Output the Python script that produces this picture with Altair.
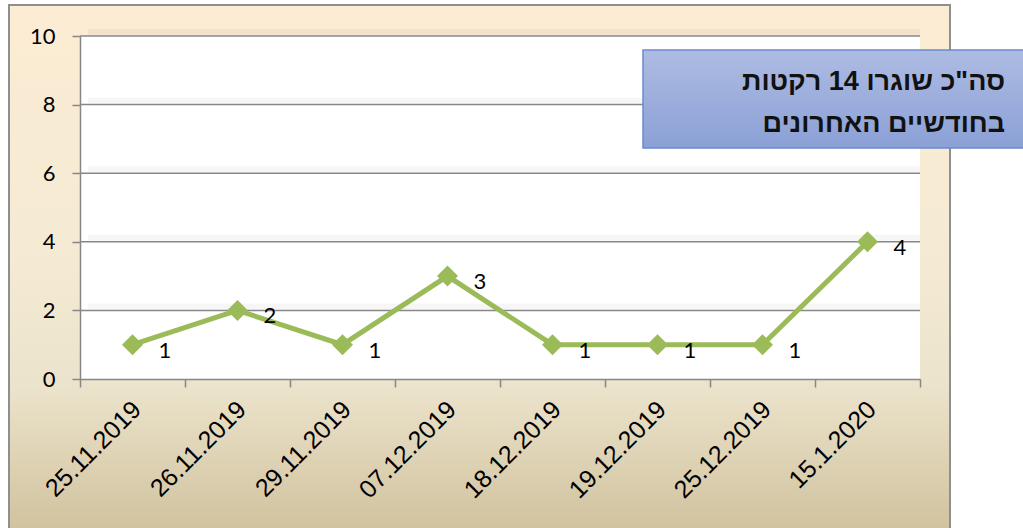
import altair as alt
import pandas as pd

dates = ["25.11.2019", "26.11.2019", "29.11.2019", "07.12.2019",
         "18.12.2019", "19.12.2019", "25.12.2019", "15.1.2020"]
values = [1, 2, 1, 3, 1, 1, 1, 4]
y_ticks = [0, 2, 4, 6, 8, 10]
grid_values = [2, 4, 6, 8, 10]
title_lines = ["סה\"כ שוגרו 14 רקטות", "בחודשיים האחרונים"]

df = pd.DataFrame({"date": dates, "value": values})
grid_df = pd.DataFrame({"g": grid_values})
dummy = pd.DataFrame({"d": [0]})
title_df = pd.DataFrame({"t": ["\n".join(title_lines)]})

W, H = 840, 343
GREEN = "#9bbb59"
GRAY = "#878787"

x_enc = alt.X("date:N", sort=dates, title=None,
              scale=alt.Scale(paddingInner=0, paddingOuter=0),
              axis=alt.Axis(labelAngle=315, labelAlign="right", labelBaseline="middle",
                            labelPadding=18, labelOffset=4, labelFontSize=25,
                            labelFont="Liberation Sans", labelColor="#000000",
                            tickBand="extent", tickSize=8, tickColor=GRAY,
                            domainColor=GRAY, domainWidth=1.5, tickWidth=1.5,
                            grid=False, zindex=1))
y_scale = alt.Scale(domain=[0, 10], nice=False)
y_enc = alt.Y("value:Q", scale=y_scale, title=None,
              axis=alt.Axis(values=y_ticks, labelFontSize=22, labelFont="Lato",
                            labelColor="#000000", labelPadding=17, tickSize=8,
                            tickColor=GRAY, domainColor=GRAY, domainWidth=1.5,
                            tickWidth=1.5, grid=False, zindex=1))

bg = alt.Chart(dummy).mark_rect(
    fill=alt.Gradient(gradient="linear", x1=0, x2=0, y1=0, y2=1,
                      stops=[alt.GradientStop(offset=0, color="#fcecd3"),
                             alt.GradientStop(offset=0.5, color="#f4ead3"),
                             alt.GradientStop(offset=0.72, color="#ebe3cb"),
                             alt.GradientStop(offset=1, color="#d0c19d")]),
    stroke="#8f8f8f", strokeWidth=2
).encode(x=alt.value(-71), x2=alt.value(870), y=alt.value(-31), y2=alt.value(500))

plot_bg = alt.Chart(dummy).mark_rect(fill="white").encode(
    x=alt.value(0), x2=alt.value(W), y=alt.value(0), y2=alt.value(H))

shadow = alt.Chart(grid_df).mark_rule(color="#000000", opacity=0.035, strokeWidth=6, yOffset=-4).encode(
    y=alt.Y("g:Q", scale=y_scale), x=alt.value(8), x2=alt.value(W))

grid = alt.Chart(grid_df).mark_rule(color=GRAY, strokeWidth=1.5).encode(
    y=alt.Y("g:Q", scale=y_scale), x=alt.value(0), x2=alt.value(W))

line = alt.Chart(df).mark_line(color=GREEN, strokeWidth=5).encode(x=x_enc, y=y_enc)
pts = alt.Chart(df).mark_point(shape="diamond", filled=True, color=GREEN, size=440, opacity=1).encode(
    x=alt.X("date:N", sort=dates), y=alt.Y("value:Q", scale=y_scale))
labels = alt.Chart(df).mark_text(align="left", baseline="middle", dx=26, dy=6,
                                 fontSize=22, font="Lato", color="#000000").encode(
    x=alt.X("date:N", sort=dates), y=alt.Y("value:Q", scale=y_scale), text="value:Q")

box = alt.Chart(dummy).mark_rect(
    fill=alt.Gradient(gradient="linear", x1=0, x2=0, y1=0, y2=1,
                      stops=[alt.GradientStop(offset=0, color="#aebce3"),
                             alt.GradientStop(offset=1, color="#8ba0d6")]),
    stroke="#6a8bcf", strokeWidth=1.5
).encode(x=alt.value(563), x2=alt.value(960), y=alt.value(14), y2=alt.value(112))

title = alt.Chart(title_df).mark_text(align="right", baseline="middle", fontSize=27,
                                      fontWeight="bold", font="Liberation Sans",
                                      lineBreak="\n", lineHeight=42, dy=-19,
                                      color="#111111").encode(
    x=alt.value(925), y=alt.value(65), text="t:N")

chart = alt.layer(bg, plot_bg, shadow, grid, line, pts, labels, box, title).properties(
    width=W, height=H,
    padding={"left": 80, "top": 36, "right": 103, "bottom": 149},
    autosize=alt.AutoSizeParams(type="none"),
    background="white"
).configure_view(stroke=None)

chart.save("out.html", embed_options={"renderer": "svg", "actions": False})
